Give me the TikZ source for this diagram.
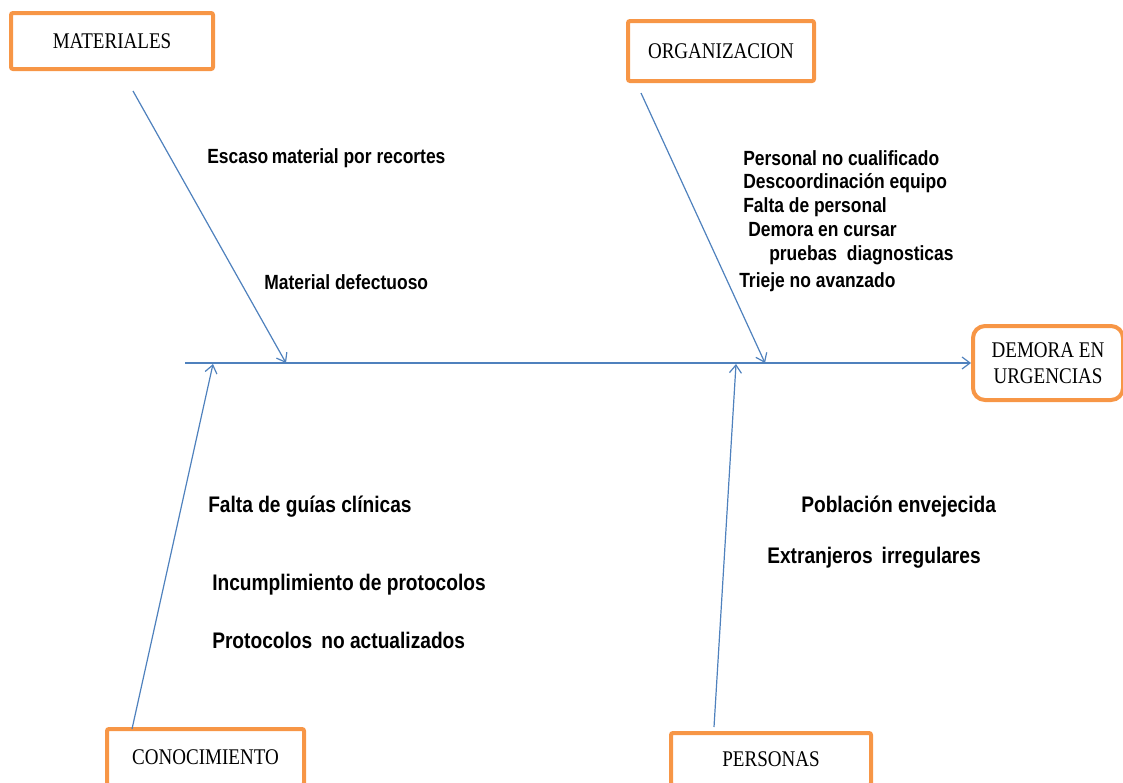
\documentclass[tikz,border=0pt]{standalone}
\usepackage{fontspec}
\setmainfont{Liberation Serif}[FakeStretch=0.85]
\newfontfamily\causefont{Liberation Sans}[FakeStretch=0.85]
\usepackage{tikz}
\usetikzlibrary{positioning,arrows.meta}
\definecolor{palOrange}{HTML}{F79646}
\definecolor{palBlue}{HTML}{4F81BD}
\tikzset{
  catnode/.style={draw=palOrange, line width=3pt, rounded corners=1.5pt,
                  font=\fontsize{16.8}{19.5}\selectfont, inner sep=0pt, align=center},
  causenode/.style={anchor=west, inner sep=0pt,
                    font=\causefont\bfseries\fontsize{15.4}{18}\selectfont},
  causelow/.style={causenode, font=\causefont\bfseries\fontsize{16.9}{20}\selectfont},
  bonearrow/.style={-{Straight Barb[length=6pt,width=9pt]}, line width=0.9pt, palBlue},
}
\begin{document}
\begin{tikzpicture}[x=0.75pt, y=-0.75pt]
\clip (0,0) rectangle (1123,782);

%% Category boxes
\node[catnode, minimum width=151.5pt, minimum height=42pt] (materiales) at (112,41) {MATERIALES};
\node[catnode, minimum width=139.5pt, minimum height=45pt] (organizacion) at (721,51) {ORGANIZACION};
\node[catnode, minimum width=147.75pt, minimum height=42pt] (conocimiento) at (205.5,757) {CONOCIMIENTO};
\node[catnode, minimum width=150pt, minimum height=39pt] (personas) at (771,759) {PERSONAS};
\node[catnode, rounded corners=9pt, minimum width=112.5pt, minimum height=55.5pt] (demora) at (1048,363) {DEMORA EN\\URGENCIAS};

%% Spine and bones
\coordinate (spineTail) at (185,363);
\draw[bonearrow] (spineTail) -- (demora.west);
\foreach \nm/\tx/\ty/\hx/\hy in {mat/133/91/286/363, org/641/93/765/363,
                                 con/132/729/213/364, per/714/727/736/364} {
  \coordinate (\nm Tail) at (\tx,\ty);
  \coordinate (\nm Head) at (\hx,\hy);
  \draw[bonearrow] (\nm Tail) -- (\nm Head);
}

%% Causes, upper side
\node[causenode] (matA) at (207,158) {Escaso\thinspace material por recortes};
\node[causenode] (matB) at (264,282) {Material defectuoso};
\foreach \nm/\x/\y/\txt in {orgA/743/158/Personal no cualificado,
                            orgB/743/183/Descoordinación equipo,
                            orgC/743/207/Falta de personal,
                            orgD/748/230/Demora en cursar,
                            orgE/769/255/pruebas\ \ diagnosticas,
                            orgF/739/282/Trieje no avanzado} {
  \node[causenode] (\nm) at (\x,\y) {\txt};
}

%% Causes, lower side
\node[causelow] (conA) at (208,507) {Falta de guías clínicas};
\node[causelow] (conB) at (212,585) {Incumplimiento de protocolos};
\node[causelow] (conC) at (212,640) {Protocolos\ \thinspace no actualizados};
\node[causelow] (perA) at (801,507) {Población envejecida};
\node[causelow] (perB) at (767,558) {Extranjeros\ \thinspace irregulares};
\end{tikzpicture}
\end{document}
